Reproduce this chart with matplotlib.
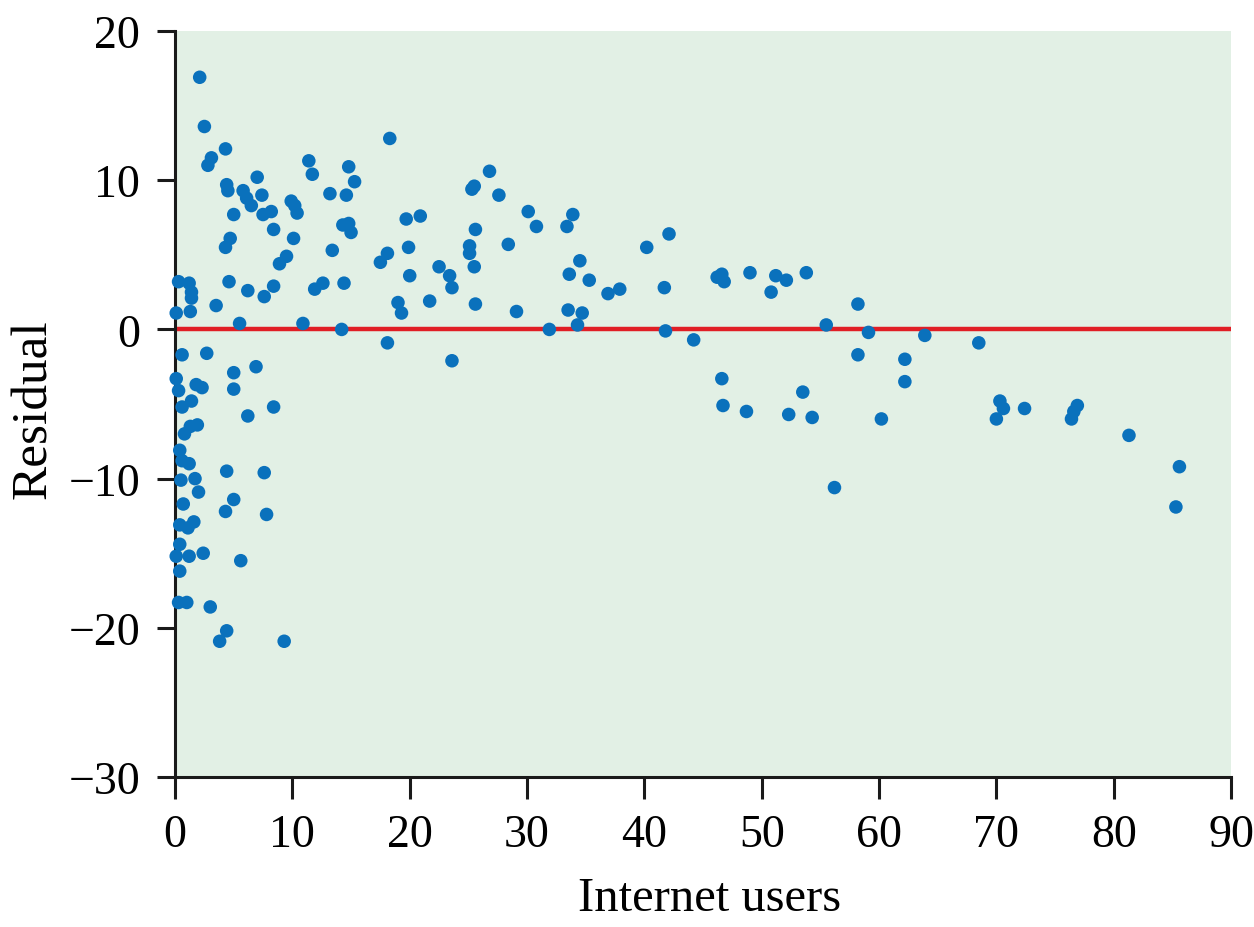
import matplotlib.pyplot as plt

# internet users (x) and residuals (y)
internet_users = [
    2.1, 2.5, 2.8, 3.1, 4.3, 4.4, 4.5, 7.0, 5.8, 6.1,
    6.5, 7.4, 5.0, 7.5, 8.2, 8.4, 4.7, 4.3, 10.1, 9.9,
    10.2, 10.4, 11.4, 11.7, 13.2, 14.8, 15.3, 14.6, 14.3, 14.8,
    15.0, 13.4, 8.9, 9.5, 4.6, 6.2, 7.6, 8.4, 11.9, 12.6,
    14.4, 0.3, 1.2, 1.4, 1.4, 3.5, 0.1, 1.3, 5.5, 10.9,
    14.2, 0.6, 2.7, 6.9, 5.0, 5.0, 0.1, 0.3, 1.8, 2.3,
    1.4, 0.6, 6.2, 8.4, 1.9, 1.3, 0.8, 0.4, 0.6, 1.2,
    4.4, 7.6, 0.5, 1.7, 2.0, 5.0, 4.3, 7.8, 0.7, 0.4,
    1.1, 1.6, 0.4, 0.1, 1.2, 2.4, 5.6, 0.4, 0.3, 1.0,
    3.0, 4.4, 3.8, 9.3, 18.3, 19.7, 20.9, 17.5, 18.1, 19.9,
    20.0, 19.0, 19.3, 21.7, 22.5, 23.4, 23.6, 18.1, 23.6, 25.3,
    25.5, 26.8, 27.6, 25.6, 25.1, 25.1, 25.5, 25.6, 28.4, 29.1,
    30.1, 30.8, 31.9, 33.9, 33.4, 34.5, 33.6, 35.3, 33.5, 34.7,
    34.3, 40.2, 42.1, 36.9, 37.9, 41.7, 41.8, 44.2, 46.2, 46.6,
    46.8, 49.0, 51.2, 52.1, 50.8, 53.8, 46.6, 46.7, 48.7, 52.3,
    53.5, 54.3, 55.5, 58.2, 59.1, 58.2, 62.2, 62.2, 60.2, 56.2,
    63.9, 68.5, 70.3, 70.6, 70.0, 72.4, 76.9, 76.6, 76.4, 81.3,
    85.6, 85.3,
]
residuals = [
    16.9, 13.6, 11.0, 11.5, 12.1, 9.7, 9.3, 10.2, 9.3, 8.8,
    8.3, 9.0, 7.7, 7.7, 7.9, 6.7, 6.1, 5.5, 6.1, 8.6,
    8.3, 7.8, 11.3, 10.4, 9.1, 10.9, 9.9, 9.0, 7.0, 7.1,
    6.5, 5.3, 4.4, 4.9, 3.2, 2.6, 2.2, 2.9, 2.7, 3.1,
    3.1, 3.2, 3.1, 2.5, 2.1, 1.6, 1.1, 1.2, 0.4, 0.4,
    0.0, -1.7, -1.6, -2.5, -2.9, -4.0, -3.3, -4.1, -3.7, -3.9,
    -4.8, -5.2, -5.8, -5.2, -6.4, -6.5, -7.0, -8.1, -8.8, -9.0,
    -9.5, -9.6, -10.1, -10.0, -10.9, -11.4, -12.2, -12.4, -11.7, -13.1,
    -13.3, -12.9, -14.4, -15.2, -15.2, -15.0, -15.5, -16.2, -18.3, -18.3,
    -18.6, -20.2, -20.9, -20.9, 12.8, 7.4, 7.6, 4.5, 5.1, 5.5,
    3.6, 1.8, 1.1, 1.9, 4.2, 3.6, 2.8, -0.9, -2.1, 9.4,
    9.6, 10.6, 9.0, 6.7, 5.6, 5.1, 4.2, 1.7, 5.7, 1.2,
    7.9, 6.9, 0.0, 7.7, 6.9, 4.6, 3.7, 3.3, 1.3, 1.1,
    0.3, 5.5, 6.4, 2.4, 2.7, 2.8, -0.1, -0.7, 3.5, 3.7,
    3.2, 3.8, 3.6, 3.3, 2.5, 3.8, -3.3, -5.1, -5.5, -5.7,
    -4.2, -5.9, 0.3, 1.7, -0.2, -1.7, -2.0, -3.5, -6.0, -10.6,
    -0.4, -0.9, -4.8, -5.3, -6.0, -5.3, -5.1, -5.5, -6.0, -7.1,
    -9.2, -11.9,
]
x_ticks = [0, 10, 20, 30, 40, 50, 60, 70, 80, 90]
y_ticks = [-30, -20, -10, 0, 10, 20]

plt.rcParams['font.family'] = ['Liberation Serif', 'DejaVu Serif']

fig = plt.figure(figsize=(12.54, 9.28), dpi=100)
ax = fig.add_axes([0.1396, 0.1616, 0.8421, 0.8039])
ax.set_facecolor('#e2f0e5')

ax.axhline(0, color='#e01e25', lw=3.2, zorder=2)
ax.scatter(internet_users, residuals, s=95, color='#0a71bc',
           edgecolors='none', zorder=3, clip_on=False)

ax.set_xlim(0, 90)
ax.set_ylim(-30, 20)
ax.set_xticks(x_ticks)
ax.set_yticks(y_ticks)
ax.set_yticklabels([str(v).replace('-', '\u2212') for v in y_ticks])

for side in ['top', 'right']:
    ax.spines[side].set_visible(False)
for side in ['left', 'bottom']:
    ax.spines[side].set_linewidth(2.2)
    ax.spines[side].set_color('#1a1a1a')

ax.tick_params(direction='out', width=2.2, color='#1a1a1a', labelsize=33)
ax.tick_params(axis='x', length=15.5, pad=11)
ax.tick_params(axis='y', length=13, pad=12)

ax.set_xlabel('Internet users', fontsize=35)
ax.set_ylabel('Residual', fontsize=37)
ax.xaxis.set_label_coords(0.5066, -0.133)
ax.yaxis.set_label_coords(-0.112, 0.495)

fig.savefig('out.png', dpi=100)
